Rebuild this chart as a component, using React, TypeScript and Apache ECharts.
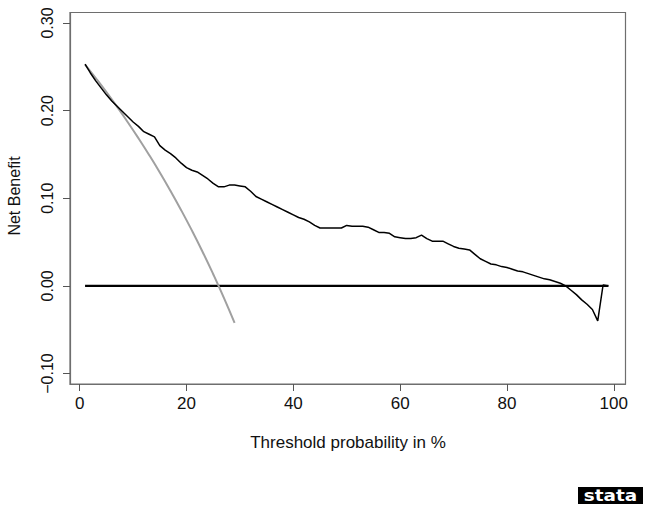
import React, { useEffect, useRef } from "react";
import * as echarts from "echarts";

const thresholds: number[] = [
  1, 2, 3, 4, 5, 6, 7, 8, 9, 10, 11, 12, 13, 14, 15, 16, 17, 18, 19, 20,
  21, 22, 23, 24, 25, 26, 27, 28, 29, 30, 31, 32, 33, 34, 35, 36, 37, 38, 39, 40,
  41, 42, 43, 44, 45, 46, 47, 48, 49, 50, 51, 52, 53, 54, 55, 56, 57, 58, 59, 60,
  61, 62, 63, 64, 65, 66, 67, 68, 69, 70, 71, 72, 73, 74, 75, 76, 77, 78, 79, 80,
  81, 82, 83, 84, 85, 86, 87, 88, 89, 90, 91, 92, 93, 94, 95, 96, 97, 98, 99,
];

const modelNB: number[] = [
  0.253, 0.243, 0.234, 0.226, 0.218, 0.211, 0.205, 0.199, 0.193, 0.187,
  0.182, 0.176, 0.173, 0.17, 0.16, 0.155, 0.151, 0.146, 0.14, 0.135,
  0.132, 0.13, 0.126, 0.122, 0.117, 0.113, 0.113, 0.115, 0.115, 0.114,
  0.113, 0.108, 0.102, 0.099, 0.096, 0.093, 0.09, 0.087, 0.084, 0.081,
  0.078, 0.076, 0.073, 0.069, 0.066, 0.066, 0.066, 0.066, 0.066, 0.069,
  0.068, 0.068, 0.068, 0.067, 0.064, 0.061, 0.061, 0.06, 0.056, 0.055,
  0.054, 0.054, 0.055, 0.058, 0.054, 0.051, 0.051, 0.051, 0.048, 0.045,
  0.043, 0.042, 0.041, 0.036, 0.031, 0.028, 0.025, 0.024, 0.022, 0.021,
  0.019, 0.017, 0.016, 0.014, 0.012, 0.01, 0.008, 0.007, 0.005, 0.003,
  0.0, -0.005, -0.01, -0.016, -0.021, -0.027, -0.04, 0.001, 0.0,
];

const allThresholds: number[] = [1, 3, 5, 7, 9, 11, 13, 15, 17, 19, 21, 23, 25, 27, 29];
const treatAllNB: number[] = [
  0.2525, 0.2371, 0.2211, 0.2043, 0.1868, 0.1685, 0.1494, 0.1294, 0.1084,
  0.0864, 0.0633, 0.039, 0.0133, -0.0137, -0.0423,
];

const noneThresholds: number[] = [1, 99];
const treatNoneNB: number[] = [0, 0];

const xTicks: number[] = [0, 20, 40, 60, 80, 100];
const yTicks: number[] = [-0.1, 0, 0.1, 0.2, 0.3];

const FONT = "'Liberation Sans', Arial, Helvetica, sans-serif";

export default function App() {
  const ref = useRef<HTMLDivElement>(null);

  useEffect(() => {
    if (!ref.current) return;
    const chart = echarts.init(ref.current, undefined, { renderer: "svg" });
    const zip = (xs: number[], ys: number[]) => xs.map((x, i) => [x, ys[i]]);
    chart.setOption({
      animation: false,
      backgroundColor: "#ffffff",
      textStyle: { fontFamily: FONT },
      grid: {
        left: 70,
        right: 22.5,
        top: 12.5,
        bottom: 131,
        show: true,
        borderColor: "#6e6e6e",
        borderWidth: 1.2,
        backgroundColor: "#ffffff",
      },
      xAxis: {
        type: "value",
        min: -1.82,
        max: 102.2,
        splitLine: { show: false },
        axisLine: { show: true, onZero: false, lineStyle: { color: "#6e6e6e", width: 1.2 } },
        axisTick: {
          show: true,
          length: 7,
          customValues: xTicks,
          lineStyle: { color: "#555", width: 1 },
        },
        axisLabel: {
          customValues: xTicks,
          fontSize: 17,
          color: "#111",
          margin: 11,
          fontFamily: FONT,
        },
      },
      yAxis: {
        type: "value",
        min: -0.112,
        max: 0.312,
        splitLine: { show: false },
        axisLine: { show: true, onZero: false, lineStyle: { color: "#6e6e6e", width: 1.2 } },
        axisTick: {
          show: true,
          length: 7,
          customValues: yTicks,
          lineStyle: { color: "#555", width: 1 },
        },
        axisLabel: {
          customValues: yTicks,
          rotate: 90,
          fontSize: 16,
          color: "#111",
          margin: 15,
          fontFamily: FONT,
          formatter: (v: number) => {
            const s = Math.abs(v).toFixed(2);
            return v < -1e-9 ? "\u2212" + s : s;
          },
        },
      },
      series: [
        {
          name: "None",
          type: "line",
          data: zip(noneThresholds, treatNoneNB),
          showSymbol: false,
          lineStyle: { color: "#000", width: 2.2 },
          z: 2,
        },
        {
          name: "All",
          type: "line",
          smooth: true,
          data: zip(allThresholds, treatAllNB),
          showSymbol: false,
          lineStyle: { color: "#a0a0a0", width: 2 },
          z: 3,
        },
        {
          name: "Model",
          type: "line",
          data: zip(thresholds, modelNB),
          showSymbol: false,
          lineStyle: { color: "#000", width: 1.5 },
          z: 4,
        },
      ],
      graphic: [
        {
          type: "text",
          x: 14,
          y: 196,
          rotation: Math.PI / 2,
          style: {
            text: "Net Benefit",
            fontSize: 16,
            fontFamily: FONT,
            fill: "#111",
            align: "center",
            verticalAlign: "middle",
          },
        },
        {
          type: "text",
          x: 348,
          y: 442,
          style: {
            text: "Threshold probability in %",
            fontSize: 17,
            fontFamily: FONT,
            fill: "#111",
            align: "center",
            verticalAlign: "middle",
          },
        },
        {
          type: "rect",
          shape: { x: 578, y: 487, width: 65, height: 17 },
          style: { fill: "#000" },
        },
        {
          type: "text",
          x: 610.5,
          y: 495.5,
          scaleX: 1.15,
          style: {
            text: "stata",
            fontSize: 16,
            fontWeight: "bold",
            fontFamily: "'DejaVu Sans', sans-serif",
            fill: "#fff",
            align: "center",
            verticalAlign: "middle",
          },
        },
      ],
    });
    return () => chart.dispose();
  }, []);

  return (
    <div
      ref={ref}
      style={{ position: "fixed", left: 0, top: 0, width: 648, height: 515 }}
    />
  );
}
